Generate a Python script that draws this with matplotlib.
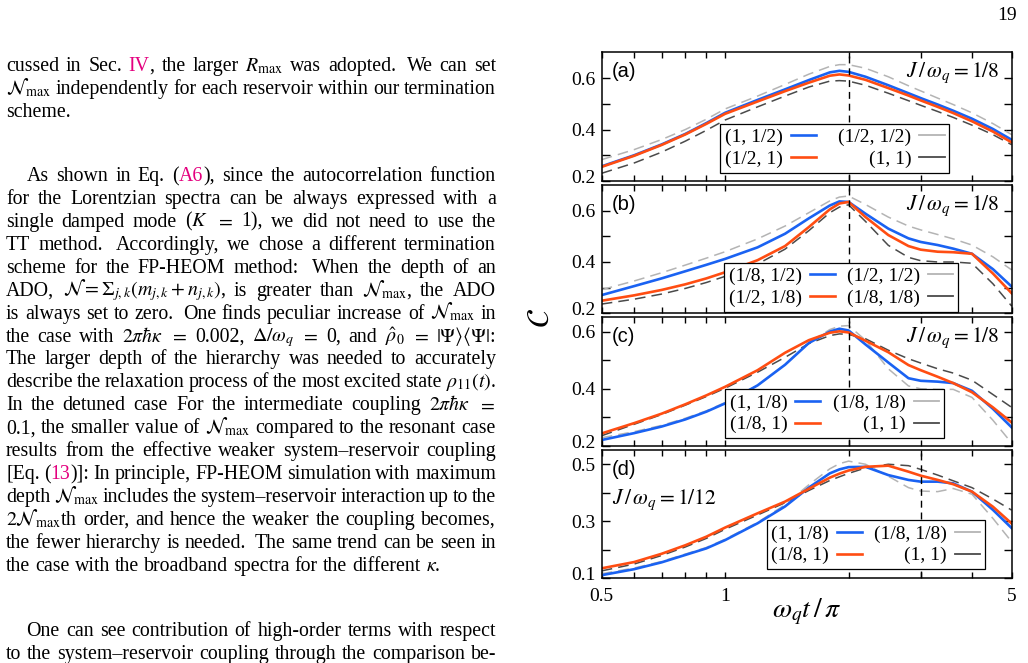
import re
import matplotlib
matplotlib.use("Agg")
import matplotlib.pyplot as plt
from matplotlib.lines import Line2D
from matplotlib.ticker import FixedLocator, NullFormatter
from matplotlib.transforms import ScaledTranslation

plt.rcParams["font.family"] = ["Liberation Serif", "DejaVu Serif"]
plt.rcParams["mathtext.fontset"] = "stix"

W, H = 1028, 663
fig = plt.figure(figsize=(W / 100, H / 100), dpi=100)

# ----------------------------------------------------------------------
# data
# ----------------------------------------------------------------------
t = [0.5, 0.6, 0.7, 0.8, 0.9, 1.0, 1.2, 1.4, 1.6, 1.8, 1.9,
     2.0, 2.2, 2.5, 2.8, 3.0, 3.3, 3.6, 4.0, 4.5, 5.0]

a_blue = [0.257, 0.300, 0.342, 0.383, 0.425, 0.465, 0.515, 0.556, 0.592, 0.622, 0.628,
          0.624, 0.605, 0.572, 0.541, 0.522, 0.497, 0.473, 0.442, 0.402, 0.360]
a_orange = [0.255, 0.298, 0.340, 0.381, 0.422, 0.461, 0.509, 0.549, 0.582, 0.609, 0.614,
            0.610, 0.593, 0.561, 0.532, 0.513, 0.488, 0.464, 0.432, 0.392, 0.350]
a_light = [0.283, 0.322, 0.361, 0.400, 0.440, 0.480, 0.530, 0.575, 0.615, 0.645, 0.652,
           0.652, 0.638, 0.605, 0.570, 0.550, 0.522, 0.497, 0.465, 0.423, 0.380]
a_dark = [0.230, 0.270, 0.312, 0.355, 0.397, 0.437, 0.488, 0.530, 0.565, 0.588, 0.590,
          0.588, 0.572, 0.541, 0.512, 0.494, 0.470, 0.447, 0.417, 0.380, 0.341]

b_blue = [0.271, 0.306, 0.336, 0.364, 0.389, 0.412, 0.457, 0.510, 0.570, 0.620, 0.636,
          0.634, 0.588, 0.530, 0.492, 0.478, 0.466, 0.452, 0.432, 0.372, 0.304]
b_orange = [0.249, 0.270, 0.291, 0.313, 0.336, 0.360, 0.407, 0.462, 0.536, 0.605, 0.628,
            0.634, 0.575, 0.505, 0.462, 0.448, 0.440, 0.438, 0.432, 0.355, 0.278]
b_light = [0.292, 0.326, 0.358, 0.388, 0.415, 0.440, 0.490, 0.540, 0.592, 0.638, 0.653,
           0.657, 0.624, 0.575, 0.540, 0.525, 0.507, 0.490, 0.466, 0.420, 0.369]
b_dark = [0.236, 0.255, 0.275, 0.297, 0.320, 0.344, 0.392, 0.450, 0.522, 0.592, 0.614,
          0.623, 0.558, 0.465, 0.418, 0.405, 0.400, 0.400, 0.395, 0.315, 0.228]

c_blue = [0.221, 0.245, 0.268, 0.293, 0.320, 0.349, 0.412, 0.484, 0.560, 0.600, 0.610,
          0.604, 0.555, 0.492, 0.437, 0.428, 0.425, 0.420, 0.393, 0.330, 0.265]
c_orange = [0.244, 0.280, 0.313, 0.346, 0.377, 0.407, 0.465, 0.526, 0.570, 0.596, 0.601,
            0.597, 0.568, 0.528, 0.483, 0.465, 0.442, 0.420, 0.388, 0.335, 0.282]
c_light = [0.229, 0.250, 0.272, 0.297, 0.323, 0.352, 0.412, 0.485, 0.562, 0.607, 0.619,
           0.621, 0.570, 0.470, 0.410, 0.400, 0.398, 0.398, 0.370, 0.290, 0.210]
c_dark = [0.236, 0.276, 0.310, 0.343, 0.373, 0.402, 0.458, 0.510, 0.558, 0.586, 0.592,
          0.590, 0.575, 0.535, 0.505, 0.490, 0.470, 0.455, 0.430, 0.380, 0.335]

d_blue = [0.111, 0.132, 0.156, 0.182, 0.205, 0.234, 0.293, 0.352, 0.418, 0.468, 0.482,
          0.490, 0.491, 0.462, 0.445, 0.439, 0.439, 0.433, 0.404, 0.340, 0.276]
d_orange = [0.135, 0.157, 0.186, 0.216, 0.246, 0.278, 0.328, 0.369, 0.414, 0.453, 0.467,
            0.478, 0.491, 0.495, 0.474, 0.460, 0.445, 0.430, 0.404, 0.351, 0.292]
d_light = [0.116, 0.136, 0.159, 0.185, 0.208, 0.237, 0.296, 0.358, 0.428, 0.484, 0.502,
           0.511, 0.500, 0.458, 0.418, 0.406, 0.404, 0.415, 0.395, 0.310, 0.228]
d_dark = [0.126, 0.150, 0.180, 0.210, 0.240, 0.272, 0.322, 0.365, 0.408, 0.443, 0.456,
          0.468, 0.487, 0.500, 0.495, 0.482, 0.462, 0.442, 0.418, 0.378, 0.339]

labels_a = ["(1, 1/2)", "(1/2, 1)", "(1/2, 1/2)", "(1, 1)"]
labels_b = ["(1/8, 1/2)", "(1/2, 1/8)", "(1/2, 1/2)", "(1/8, 1/8)"]
labels_c = ["(1, 1/8)", "(1/8, 1)", "(1/8, 1/8)", "(1, 1)"]
labels_d = ["(1, 1/8)", "(1/8, 1)", "(1/8, 1/8)", "(1, 1)"]

panel_tags = ["(a)", "(b)", "(c)", "(d)"]
coupling = ["1/8", "1/8", "1/8", "1/12"]
vline_at = [2, 2, 2, 3]

BLUE = "#1a62f2"
ORANGE = "#ff4d12"
LIGHT = "#b4b4b4"
DARK = "#4a4a4a"

# ----------------------------------------------------------------------
# plot panels
# ----------------------------------------------------------------------
panels = [
    (a_blue, a_orange, a_light, a_dark, labels_a, (0.2, 0.7), [0.2, 0.4, 0.6], [0.3, 0.5],
     (52.3, 181.0), (0.289, 0.064), 1.15),
    (b_blue, b_orange, b_light, b_dark, labels_b, (0.2, 0.7), [0.2, 0.4, 0.6], [0.3, 0.5],
     (185.0, 313.3), (0.299, 0.012), 0.6),
    (c_blue, c_orange, c_light, c_dark, labels_c, (0.2, 0.65), [0.2, 0.4, 0.6], [0.3, 0.5],
     (317.3, 446.0), (0.300, 0.060), 0.65),
    (d_blue, d_orange, d_light, d_dark, labels_d, (0.1, 0.55), [0.1, 0.3, 0.5], [0.2, 0.4],
     (450.0, 578.3), (0.402, 0.070), 0.6),
]

AX_L, AX_W = 601.7, 410.0
for i, (yb, yo, yl, yd, labs, ylim, ymaj, ymin, (top, bot), legpos, colsp) in enumerate(panels):
    ax = fig.add_axes([AX_L / W, 1 - bot / H, AX_W / W, (bot - top) / H])
    ax.plot(t, yl, color=LIGHT, lw=1.1, dashes=(7, 4))
    ax.plot(t, yd, color=DARK, lw=1.1, dashes=(7, 4))
    ax.plot(t, yb, color=BLUE, lw=1.9)
    ax.plot(t, yo, color=ORANGE, lw=1.9)
    ax.axvline(vline_at[i], color="black", lw=1.0, dashes=(5, 3.5))

    ax.set_xscale("log")
    ax.set_xlim(0.5, 5)
    ax.set_ylim(*ylim)
    ax.xaxis.set_major_locator(FixedLocator([0.5, 1, 5]))
    ax.xaxis.set_minor_locator(FixedLocator([0.6, 0.7, 0.8, 0.9, 2, 3, 4]))
    ax.xaxis.set_minor_formatter(NullFormatter())
    ax.set_yticks(ymaj)
    ax.set_yticks(ymin, minor=True)
    ax.set_yticklabels([f"{v:.1f}" for v in ymaj])
    if i == 3:
        ax.set_xticklabels(["0.5", "1", "5"])
    else:
        ax.set_xticklabels([])
    ax.tick_params(which="both", direction="in", top=True, right=True,
                   labelsize=14, width=1.0)
    ax.tick_params(axis="y", which="both", length=6, pad=4.5)
    ax.tick_params(axis="x", which="both", length=4, pad=7)
    for s in ax.spines.values():
        s.set_linewidth(1.1)
    # the lowest y label sits a little above its tick in the original
    low = ax.yaxis.get_majorticklabels()[0]
    low.set_transform(low.get_transform() + ScaledTranslation(0, 3.2 / 72, fig.dpi_scale_trans))

    ax.text(0.024, 0.85, panel_tags[i], transform=ax.transAxes, fontsize=14.5,
            family="Liberation Sans", va="center", ha="left")
    jtxt = r"$J\,/\,\omega_q = " + coupling[i] + "$"
    if i == 3:
        ax.text(0.024, 0.61, jtxt, transform=ax.transAxes, fontsize=15.5,
                va="center", ha="left")
    else:
        ax.text(0.971, 0.84, jtxt, transform=ax.transAxes, fontsize=15.5,
                va="center", ha="right")

    handles = [Line2D([], [], color=BLUE, lw=1.9), Line2D([], [], color=ORANGE, lw=1.9),
               Line2D([], [], color=LIGHT, lw=1.3), Line2D([], [], color=DARK, lw=1.3)]
    leg = ax.legend(handles, labs, ncol=2, markerfirst=False, loc="lower left",
                    bbox_to_anchor=legpos, borderaxespad=0, fontsize=14,
                    frameon=True, fancybox=False, framealpha=1, edgecolor="black",
                    handlelength=1.3, handletextpad=0.4, columnspacing=colsp,
                    labelspacing=0.2, borderpad=0.25)
    leg.get_frame().set_linewidth(0.9)

fig.text(541 / W, 1 - 318 / H, r"$\mathcal{C}$", rotation=90, fontsize=22,
         ha="center", va="center")
fig.text(806 / W, 1 - 612 / H, r"$\omega_q t\,/\,\pi$", fontsize=20,
         ha="center", va="center")
fig.text(1017 / W, 1 - 20 / H, "19", fontsize=14, ha="right", va="baseline")

# ----------------------------------------------------------------------
# text column (justified by hand)
# ----------------------------------------------------------------------
REF = "#e4007f"
FS = 14.3
TX0, TX1 = 6.0, 496.0
INDENT = 20.5

para1 = [
    "cussed in Sec. {{IV}}, the larger $R_{\\max}$ was adopted.  We can set",
    "$\\mathcal{N}_{\\max}$ independently for each reservoir within our termination",
    "scheme.",
]
para2 = [
    "As shown in Eq. ({{A6}}), since the autocorrelation function",
    "for the Lorentzian spectra can be always expressed with a",
    "single damped mode ($K$ $=$ 1), we did not need to use the",
    "TT method.  Accordingly, we chose a different termination",
    "scheme for the FP-HEOM method:  When the depth of an",
    "ADO, $\\mathcal{N}=\\Sigma_{j,k}(m_{j,k}+n_{j,k})$, is greater than $\\mathcal{N}_{\\max}$, the ADO",
    "is always set to zero.  One finds peculiar increase of $\\mathcal{N}_{\\max}$ in",
    "the case with $2\\pi\\hbar\\kappa$ $=$ 0.002, $\\Delta/\\omega_q$ $=$ 0, and $\\hat{\\rho}_0$ $=$ $|\\Psi\\rangle\\langle\\Psi|$:",
    "The larger depth of the hierarchy was needed to accurately",
    "describe the relaxation process of the most excited state $\\rho_{11}(t)$.",
    "In the detuned case For the intermediate coupling $2\\pi\\hbar\\kappa$ $=$",
    "0.1, the smaller value of $\\mathcal{N}_{\\max}$ compared to the resonant case",
    "results from the effective weaker system\u2013reservoir coupling",
    "[Eq. ({{13}})]: In principle, FP-HEOM simulation with maximum",
    "depth $\\mathcal{N}_{\\max}$ includes the system\u2013reservoir interaction up to the",
    "$2\\mathcal{N}_{\\max}$th order, and hence the weaker the coupling becomes,",
    "the fewer hierarchy is needed.  The same trend can be seen in",
    "the case with the broadband spectra for the different $\\kappa$.",
]
para3 = [
    "One can see contribution of high-order terms with respect",
    "to the system\u2013reservoir coupling through the comparison be-",
]
paragraphs = [(para1, 71.0, False, True), (para2, 181.0, True, True), (para3, 636.3, True, False)]
LEAD = 22.93

renderer = fig.canvas.get_renderer()


def word_artists(word):
    arts = []
    for p in re.split(r"(\{\{.*?\}\})", word):
        if not p:
            continue
        col = "black"
        if p.startswith("{{"):
            p, col = p[2:-2], REF
        a = fig.text(0, 0, p, fontsize=FS, color=col, ha="left", va="baseline")
        w = a.get_window_extent(renderer).width
        arts.append((a, w))
    return arts


for lines, y0, indent, last_ragged in paragraphs:
    for k, line in enumerate(lines):
        y = y0 + k * LEAD
        x_start = TX0 + (INDENT if (indent and k == 0) else 0)
        tokens = re.split(r"( +)", line)
        words, glues = [], []
        for tok in tokens:
            if tok.startswith(" "):
                glues.append(1.6 if len(tok) > 1 else 1.0)
            elif tok:
                words.append(word_artists(tok))
        widths = [sum(w for _, w in arts) for arts in words]
        ragged = last_ragged and k == len(lines) - 1
        if ragged or not glues:
            unit = 5.0
        else:
            unit = (TX1 - x_start - sum(widths)) / sum(glues)
        x = x_start
        for j, arts in enumerate(words):
            xx = x
            for a, w in arts:
                a.set_position((xx / W, 1 - y / H))
                xx += w
            x += widths[j]
            if j < len(glues):
                x += unit * glues[j]

fig.savefig("out.png", dpi=100)
